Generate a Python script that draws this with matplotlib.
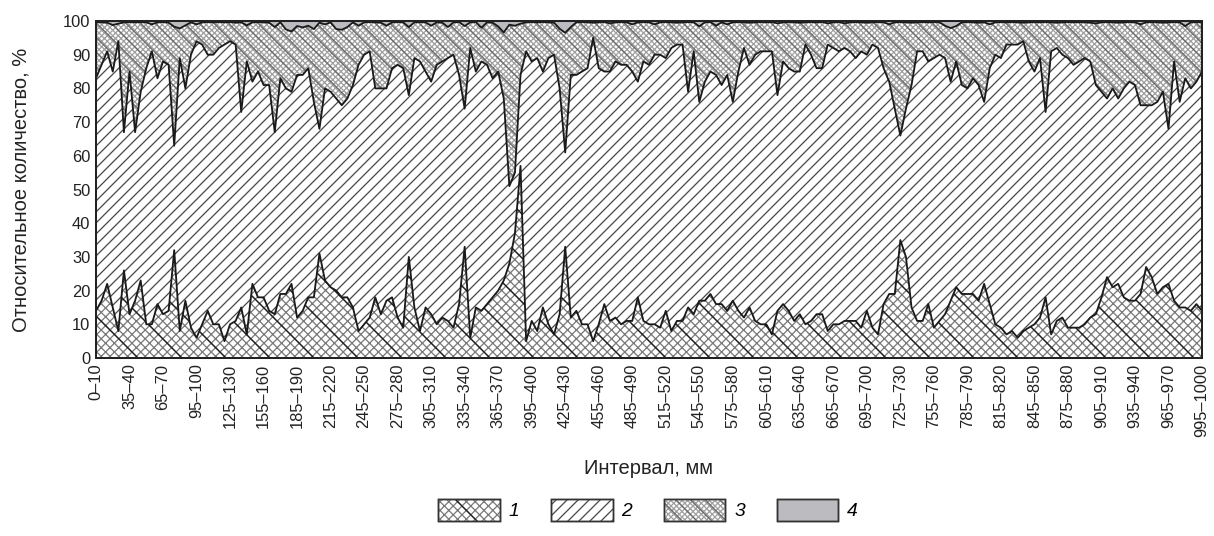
import numpy as np
import matplotlib
matplotlib.use("Agg")
import matplotlib.pyplot as plt
from matplotlib.patches import Patch
from matplotlib.legend_handler import HandlerTuple

plt.rcParams['font.family'] = ['Liberation Sans', 'DejaVu Sans']
plt.rcParams['hatch.linewidth'] = 0.7

# cumulative top of each layer, % (one value per 5 mm interval, 0-10 ... 995-1000)
top_1 = [14, 17, 22, 15, 8, 26, 13, 17, 23, 10, 10, 16, 13, 14, 32, 8, 17, 9, 6, 10,
         14, 10, 10, 5, 10, 11, 15, 7, 22, 18, 18, 14, 13, 19, 19, 22, 12, 14, 18, 18,
         31, 23, 21, 20, 18, 18, 15, 8, 10, 12, 18, 13, 17, 18, 12, 9, 30, 15, 8, 15,
         13, 10, 12, 11, 9, 16, 33, 6, 15, 14, 16, 18, 20, 23, 28, 37, 57, 5, 11, 8,
         15, 10, 7, 13, 33, 12, 14, 10, 10, 5, 10, 16, 11, 12, 10, 11, 11, 18, 11, 10,
         10, 9, 14, 8, 11, 11, 15, 13, 17, 17, 19, 16, 16, 14, 17, 14, 12, 15, 11, 10,
         10, 7, 14, 16, 14, 11, 13, 10, 11, 13, 13, 8, 10, 10, 11, 11, 11, 9, 14, 9,
         7, 16, 19, 19, 35, 30, 15, 11, 11, 16, 9, 11, 13, 17, 21, 19, 19, 19, 17, 22,
         16, 10, 9, 7, 8, 6, 8, 9, 10, 12, 18, 7, 11, 12, 9, 9, 9, 10, 12, 13,
         18, 24, 21, 22, 18, 17, 17, 19, 27, 24, 19, 21, 22, 17, 15, 15, 14, 16, 14]

top_2 = [83, 87, 91, 85, 94, 67, 85, 67, 79, 86, 91, 83, 88, 87, 63, 89, 80, 90, 94, 93,
         90, 90, 92, 93, 94, 93, 73, 88, 82, 85, 81, 81, 67, 83, 80, 79, 84, 84, 86, 76,
         68, 80, 79, 77, 75, 77, 81, 87, 90, 91, 80, 80, 80, 86, 87, 86, 78, 89, 88, 85,
         82, 87, 88, 89, 90, 84, 74, 92, 85, 88, 87, 83, 85, 77, 51, 55, 84, 91, 88, 89,
         85, 89, 90, 80, 61, 84, 84, 85, 86, 95, 86, 85, 85, 88, 87, 87, 85, 82, 88, 87,
         90, 90, 89, 92, 93, 93, 79, 91, 76, 82, 85, 84, 81, 84, 76, 85, 92, 87, 90, 91,
         91, 91, 78, 88, 86, 85, 85, 93, 90, 86, 86, 93, 92, 91, 92, 91, 89, 91, 90, 93,
         92, 86, 82, 74, 66, 74, 81, 91, 91, 88, 89, 90, 89, 82, 88, 81, 80, 83, 81, 76,
         86, 90, 89, 93, 93, 93, 94, 88, 85, 89, 73, 91, 92, 90, 89, 87, 88, 89, 88, 81,
         79, 77, 80, 77, 80, 82, 81, 75, 75, 75, 76, 79, 68, 88, 76, 83, 80, 82, 85]

top_3 = [99.7, 99.6, 99.5, 98.8, 99.2, 99.6, 99.7, 99.6, 99.7, 99.6, 99.0, 99.6, 99.7, 99.5, 98.3, 97.8, 98.7, 99.6, 99.0, 99.6,
         99.7, 99.6, 99.7, 99.6, 99.7, 99.5, 99.6, 98.7, 99.6, 99.7, 99.6, 99.5, 98.2, 99.6, 97.5, 96.9, 98.5, 98.1, 98.6, 97.6,
         99.5, 99.0, 99.6, 97.6, 97.4, 98.2, 99.6, 98.6, 99.6, 99.7, 99.6, 99.5, 98.6, 99.6, 99.7, 99.6, 98.2, 99.6, 99.7, 99.6,
         98.6, 99.6, 99.5, 98.2, 99.6, 99.7, 98.5, 99.6, 99.7, 98.0, 99.6, 99.5, 98.4, 96.6, 98.9, 98.6, 99.2, 99.6, 99.7, 99.6,
         99.7, 99.6, 99.5, 97.7, 96.5, 98.2, 99.6, 99.7, 99.6, 99.5, 99.6, 99.7, 99.3, 99.6, 99.7, 99.6, 99.0, 99.6, 99.7, 99.6,
         99.0, 99.6, 99.7, 99.6, 99.5, 99.6, 99.7, 99.6, 98.4, 99.6, 99.7, 98.6, 99.6, 99.0, 99.6, 99.7, 99.6, 99.5, 99.6, 99.7,
         99.6, 99.7, 99.3, 99.6, 99.7, 99.6, 99.5, 99.6, 99.7, 99.6, 99.7, 99.3, 99.6, 99.7, 99.3, 99.6, 99.7, 99.6, 99.5, 99.6,
         99.7, 99.6, 99.0, 99.6, 99.7, 99.6, 99.5, 99.6, 99.7, 99.6, 99.7, 99.6, 98.6, 97.9, 98.5, 99.6, 99.7, 99.6, 99.5, 99.6,
         99.0, 99.6, 99.7, 99.6, 99.7, 99.6, 99.5, 99.6, 99.7, 99.6, 99.7, 99.6, 99.5, 99.6, 99.7, 99.6, 99.7, 99.6, 99.5, 99.3,
         99.6, 99.7, 99.6, 99.5, 99.6, 99.7, 99.6, 99.0, 99.6, 99.7, 99.6, 99.5, 99.6, 99.7, 99.6, 98.5, 99.6, 99.7, 99.6]

tick_labels = ['0–10', '35–40', '65–70', '95–100', '125–130', '155–160', '185–190',
               '215–220', '245–250', '275–280', '305–310', '335–340', '365–370',
               '395–400', '425–430', '455–460', '485–490', '515–520', '545–550',
               '575–580', '605–610', '635–640', '665–670', '695–700', '725–730',
               '755–760', '785–790', '815–820', '845–850', '875–880', '905–910',
               '935–940', '965–970', '995–1000']
legend_labels = ['1', '2', '3', '4']

# hatch styles: (hatch, line colour) drawn on top of each other
style_1 = [('xxxxx', '#7a7a7a'), ('\\', '#1e1e1e')]
style_2 = [('////', '#4a4a4a')]
style_3 = [('xxxxxxxx', '#a0a0a0'), ('\\\\\\', '#6a6a6a')]
grey_4 = '#bcbcc0'

x = np.arange(len(top_1))

fig = plt.figure(figsize=(1214 / 132, 536 / 132), dpi=132)
ax = fig.add_axes([96 / 1214, 1 - 358 / 536, (1202 - 96) / 1214, (358 - 21) / 536])

for lo, hi, style in ((0, top_1, style_1), (top_1, top_2, style_2), (top_2, top_3, style_3)):
    ax.fill_between(x, lo, hi, facecolor='white', lw=0)
    for h, c in style:
        ax.fill_between(x, lo, hi, facecolor='none', edgecolor=c, hatch=h, lw=0)
ax.fill_between(x, top_3, 100, facecolor=grey_4, lw=0)

for y in (top_1, top_2, top_3):
    ax.plot(x, y, color='#1a1a1a', lw=1.0)

ax.set_xlim(0, len(x) - 1)
ax.set_ylim(0, 100)
ax.set_yticks(range(0, 101, 10))
ax.set_xticks(x[::6], tick_labels, rotation=90)
ax.tick_params(length=0, labelsize=9, colors='#222222', pad=3)
for s in ax.spines.values():
    s.set_linewidth(1.1)
    s.set_color('#222222')

ax.set_xlabel('Интервал, мм', fontsize=11, color='#222222', labelpad=12)
ax.set_ylabel('Относительное количество, %', fontsize=11, color='#222222', labelpad=18)


def legend_handle(style, face='white'):
    parts = [Patch(facecolor=face, edgecolor='#333333', lw=0.8)]
    for h, c in style:
        parts.append(Patch(facecolor='none', edgecolor=c, hatch=h, lw=0))
    parts.append(Patch(facecolor='none', edgecolor='#333333', lw=0.8))
    return tuple(parts)


handles = [legend_handle(style_1), legend_handle(style_2), legend_handle(style_3),
           legend_handle([], face=grey_4)]
leg = fig.legend(handles, legend_labels, loc='center', bbox_to_anchor=(648 / 1214, 1 - 510 / 536),
                 ncol=4, frameon=False, handlelength=3.2, handleheight=1.4,
                 columnspacing=1.65, handletextpad=0.45, fontsize=10.5,
                 handler_map={tuple: HandlerTuple(ndivide=1, pad=0)})
for t in leg.get_texts():
    t.set_fontstyle('italic')

fig.savefig('out.png', dpi=132)
